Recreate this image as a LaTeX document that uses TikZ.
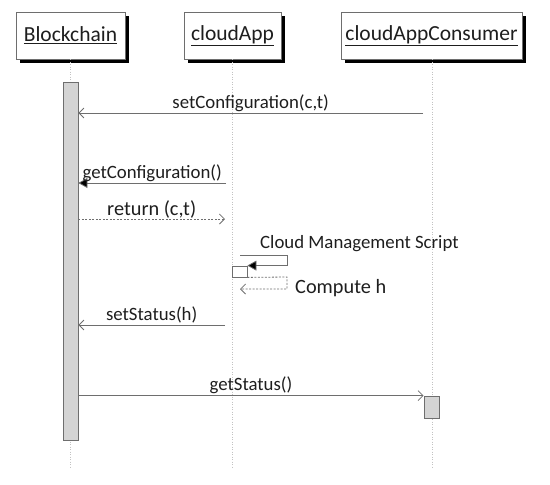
\documentclass[tikz,border=0pt]{standalone}
\usepackage{fontspec}
\setmainfont{Carlito}
\usepackage{xcolor}
\usetikzlibrary{arrows.meta}
\usetikzlibrary{shadows}

\newcommand\headfont{\fontsize{21.5pt}{24pt}\selectfont}
\newcommand\msgfont{\fontsize{18.8pt}{22pt}\selectfont}
\newcommand\bigmsgfont{\fontsize{20.3pt}{23pt}\selectfont}

\definecolor{linegray}{RGB}{110,110,110}
\definecolor{lifegray}{RGB}{195,195,195}
\definecolor{barfill}{RGB}{212,212,212}
\definecolor{textgray}{RGB}{30,30,30}

\begin{document}
\begin{tikzpicture}[x=1pt,y=-1pt,
  head/.style={draw=linegray,fill=white,minimum height=47pt,inner sep=0pt,
    font=\headfont,text=textgray,line width=0.8pt,
    drop shadow={shadow xshift=4pt,shadow yshift=-4pt,fill=black,opacity=1}},
  lifeline/.style={lifegray,line width=0.8pt,dash pattern=on 1pt off 1.5pt},
  bar/.style={draw=linegray,fill=barfill,minimum width=15pt,inner sep=0pt,line width=0.8pt},
  msg/.style={linegray,line width=0.8pt,-{Straight Barb[length=5pt,width=10pt]}},
  call/.style={linegray,line width=0.8pt,-{Triangle[length=9pt,width=10pt,fill=black]}},
  reply/.style={msg,dash pattern=on 2pt off 1.5pt},
  lbl/.style={anchor=base,yshift=5pt,font=\msgfont,text=textgray,inner sep=0pt}]
\useasboundingbox (0,0) rectangle (550,485);
% heads
\node[head,minimum width=109pt] (bc) at (70.5,35.5) {\underline{Blockchain}};
\node[head,minimum width=97pt] (ca) at (232.5,35.5) {\underline{cloudApp}};
\node[head,minimum width=181pt] (cc) at (431.5,35.5) {\underline{cloudAppConsumer}};
%
\coordinate (bcEnd) at (70,467);
\coordinate (caEnd) at (232,467);
\coordinate (ccEnd) at (432,467);
\draw[lifeline] (70,59) -- (bcEnd);
\draw[lifeline] (232,59) -- (caEnd);
\draw[lifeline] (432,59) -- (ccEnd);
% activations
\node[bar,minimum height=358pt] (bcBar) at (70.5,261) {};
\node[bar,minimum height=22pt] (ccBar) at (431.5,407) {};
\node[bar,fill=white,minimum height=11pt] (caBox) at (239.5,271.5) {};
% messages
\coordinate (m1) at (423,113);
\draw[msg] (m1) -- node[lbl] {setConfiguration(c,t)} (m1 -| bcBar.east);
\coordinate (m2) at (226,183);
\draw[call] (m2) -- node[lbl] {getConfiguration()} (m2 -| bcBar.east);
\coordinate (m3) at (225,219);
\draw[reply] (m3 -| bcBar.east) -- node[lbl,yshift=-1pt,font=\bigmsgfont] {return (c,t)} (m3);
% self call
\coordinate (s1) at (240,255);
\coordinate (s2) at (287,255);
\draw[call] (s1) -- (s2) -- (s2 |- caBox.north) -- (caBox.north east);
\node[anchor=base west,font=\msgfont,text=textgray,inner sep=0pt] (cms) at (260,248) {Cloud Management Script};
\coordinate (r1) at (287,277);
\coordinate (r2) at (287,289);
\draw[reply] (caBox.south east) -- (r1) -- (r2) -- (r2 -| s1);
\node[anchor=base west,font=\bigmsgfont,text=textgray,inner sep=0pt] (comp) at (295,293) {Compute h};
%
\coordinate (m4) at (225,325);
\draw[msg] (m4) -- node[lbl] {setStatus(h)} (m4 -| bcBar.east);
\draw[msg] (bcBar.east |- ccBar.north) -- node[lbl] {getStatus()} (ccBar.north west);
\end{tikzpicture}
\end{document}
